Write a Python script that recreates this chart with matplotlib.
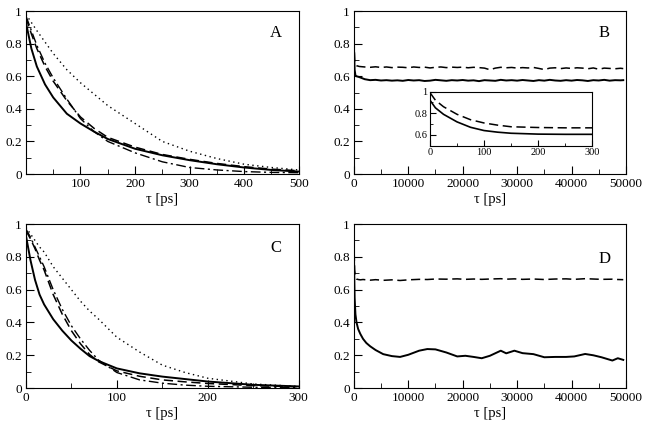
import matplotlib
matplotlib.use("Agg")
import matplotlib.pyplot as plt
from matplotlib.ticker import MultipleLocator, FixedLocator

plt.rcParams['font.family'] = ['Liberation Serif', 'DejaVu Serif']
plt.rcParams['font.size'] = 9

# ---- panel A (0-500 ps) ----
tA = [0, 10, 20, 35, 50, 75, 100, 125, 150, 200, 250, 300, 350, 400, 450, 500]
A_solid = [0.93, 0.77, 0.66, 0.55, 0.47, 0.37, 0.31, 0.26, 0.215, 0.155, 0.115, 0.085, 0.06, 0.04, 0.025, 0.015]
A_dash = [0.96, 0.86, 0.77, 0.66, 0.57, 0.45, 0.35, 0.28, 0.225, 0.165, 0.12, 0.09, 0.065, 0.045, 0.03, 0.02]
A_dashdot = [0.97, 0.88, 0.79, 0.68, 0.59, 0.46, 0.34, 0.26, 0.20, 0.13, 0.075, 0.04, 0.025, 0.015, 0.01, 0.008]
A_dot = [0.98, 0.93, 0.88, 0.81, 0.74, 0.64, 0.56, 0.49, 0.42, 0.31, 0.20, 0.14, 0.095, 0.06, 0.04, 0.025]

# ---- panel C (0-300 ps) ----
tC = [0, 5, 10, 15, 20, 30, 40, 50, 60, 70, 80, 100, 125, 150, 175, 200, 250, 300]
C_solid = [0.93, 0.78, 0.66, 0.57, 0.51, 0.42, 0.35, 0.29, 0.24, 0.195, 0.165, 0.12, 0.09, 0.07, 0.055, 0.04, 0.02, 0.01]
C_dash = [0.96, 0.91, 0.85, 0.78, 0.72, 0.57, 0.45, 0.35, 0.27, 0.205, 0.16, 0.105, 0.072, 0.05, 0.038, 0.028, 0.015, 0.008]
C_dashdot = [0.97, 0.92, 0.86, 0.80, 0.74, 0.60, 0.48, 0.38, 0.30, 0.23, 0.17, 0.095, 0.05, 0.03, 0.018, 0.011, 0.005, 0.003]
C_dot = [0.98, 0.94, 0.90, 0.86, 0.83, 0.74, 0.67, 0.60, 0.53, 0.47, 0.42, 0.31, 0.22, 0.14, 0.095, 0.06, 0.025, 0.01]

# ---- panel B (0-50000 ps) and its inset (0-300 ps) ----
tIn = [0, 10, 25, 50, 75, 100, 125, 150, 200, 250, 300]
In_solid = [0.92, 0.85, 0.79, 0.72, 0.67, 0.64, 0.625, 0.615, 0.607, 0.605, 0.605]
In_dash = [0.99, 0.92, 0.86, 0.79, 0.74, 0.71, 0.69, 0.675, 0.668, 0.665, 0.665]

tB = [0, 50, 150, 300, 500, 1000, 2000, 3000, 4000, 5000, 6000, 7000, 8000, 9000, 10000,
      11000, 12000, 13000, 14000, 15000, 16000, 17000, 18000, 19000, 20000, 21000, 22000,
      23000, 24000, 25000, 26000, 27000, 28000, 29000, 30000, 31000, 32000, 33000, 34000,
      35000, 36000, 37000, 38000, 39000, 40000, 41000, 42000, 43000, 44000, 45000, 46000,
      47000, 48000, 49000, 49500]
B_solid = [1.0, 0.75, 0.64, 0.605, 0.60, 0.595, 0.582, 0.576, 0.578, 0.574, 0.576, 0.573, 0.575, 0.572, 0.577,
           0.574, 0.576, 0.571, 0.573, 0.578, 0.575, 0.572, 0.576, 0.574, 0.577,
           0.573, 0.575, 0.570, 0.576, 0.574, 0.572, 0.578, 0.574, 0.576, 0.573,
           0.577, 0.574, 0.571, 0.576, 0.573, 0.578, 0.574, 0.572, 0.576, 0.573,
           0.577, 0.575, 0.571, 0.576, 0.574, 0.578, 0.573, 0.576, 0.575, 0.576]
B_dash = [1.0, 0.82, 0.70, 0.672, 0.665, 0.66, 0.657, 0.655, 0.658, 0.654, 0.657, 0.653, 0.656, 0.655, 0.652,
          0.657, 0.654, 0.656, 0.651, 0.655, 0.657, 0.653, 0.656, 0.654, 0.656,
          0.652, 0.655, 0.653, 0.650, 0.640, 0.650, 0.655, 0.652, 0.654, 0.650,
          0.653, 0.651, 0.654, 0.648, 0.641, 0.650, 0.652, 0.647, 0.651, 0.648,
          0.652, 0.650, 0.646, 0.651, 0.643, 0.650, 0.648, 0.646, 0.649, 0.647]

# ---- panel D (0-50000 ps) ----
tD = [0, 50, 150, 300, 500, 800, 1200, 1700, 2300, 3000, 4000, 5400, 7000, 8500, 10000, 12000, 13500, 15000,
      17000, 19000, 20500, 22000, 23500, 25000, 27000, 28000, 29500, 31000, 33000, 35000,
      37000, 39000, 40500, 42500, 44000, 45500, 47500, 48500, 49500]
D_solid = [1.0, 0.75, 0.55, 0.45, 0.40, 0.36, 0.33, 0.30, 0.275, 0.255, 0.232, 0.207, 0.195, 0.19, 0.203, 0.228, 0.238, 0.236,
           0.217, 0.193, 0.197, 0.19, 0.182, 0.197, 0.228, 0.212, 0.228, 0.213, 0.207, 0.188,
           0.19, 0.19, 0.193, 0.208, 0.20, 0.188, 0.168, 0.182, 0.172]
D_dash = [1.0, 0.85, 0.72, 0.68, 0.665, 0.662, 0.66, 0.662, 0.66, 0.658, 0.661, 0.657, 0.660, 0.656, 0.660, 0.663, 0.662, 0.665,
          0.664, 0.666, 0.663, 0.665, 0.663, 0.665, 0.667, 0.664, 0.666, 0.663, 0.665, 0.662,
          0.665, 0.666, 0.663, 0.667, 0.665, 0.663, 0.664, 0.662, 0.661]

panel_labels = ['A', 'B', 'C', 'D']
xlabel = "\u03c4 [ps]"

dash = (0, (6, 3))
dashdot = (0, (7, 2.5, 1.5, 2.5))
dot = (0, (1, 2.5))


def style(ax, xmax, xminor, xticks):
    ax.set_xlim(0, xmax)
    ax.set_ylim(0, 1)
    ax.xaxis.set_major_locator(FixedLocator(xticks))
    ax.xaxis.set_minor_locator(MultipleLocator(xminor))
    ax.yaxis.set_major_locator(MultipleLocator(0.2))
    ax.yaxis.set_minor_locator(MultipleLocator(0.1))
    ax.yaxis.set_major_formatter(plt.FuncFormatter(lambda v, p: "%g" % round(v, 2)))
    ax.tick_params(which='both', direction='in', top=False, right=False, labelsize=9.5)
    ax.tick_params(which='major', length=6, pad=3)
    ax.tick_params(which='minor', length=3.5)
    ax.set_xlabel(xlabel, fontsize=10.5, labelpad=2)
    for s in ax.spines.values():
        s.set_linewidth(0.8)


fig = plt.figure(figsize=(6.48, 4.26), dpi=100)
axA = fig.add_axes([0.040, 0.5915, 0.421, 0.3825])
axB = fig.add_axes([0.546, 0.5915, 0.420, 0.3825])
axC = fig.add_axes([0.040, 0.089, 0.421, 0.385])
axD = fig.add_axes([0.546, 0.089, 0.420, 0.385])

axA.plot(tA, A_dot, color='k', lw=1.0, ls=dot)
axA.plot(tA, A_dashdot, color='k', lw=1.0, ls=dashdot)
axA.plot(tA, A_dash, color='k', lw=1.1, ls=dash)
axA.plot(tA, A_solid, color='k', lw=1.4)
style(axA, 500, 50, [100, 200, 300, 400, 500])

axB.plot(tB, B_dash, color='k', lw=1.1, ls=dash)
axB.plot(tB, B_solid, color='k', lw=1.4)
style(axB, 50000, 5000, [0, 10000, 20000, 30000, 40000, 50000])

axC.plot(tC, C_dot, color='k', lw=1.0, ls=dot)
axC.plot(tC, C_dashdot, color='k', lw=1.0, ls=dashdot)
axC.plot(tC, C_dash, color='k', lw=1.1, ls=dash)
axC.plot(tC, C_solid, color='k', lw=1.4)
style(axC, 300, 50, [0, 100, 200, 300])

axD.plot(tD, D_dash, color='k', lw=1.1, ls=dash)
axD.plot(tD, D_solid, color='k', lw=1.4)
style(axD, 50000, 5000, [0, 10000, 20000, 30000, 40000, 50000])

for ax, lab, (lx, ly) in zip([axA, axB, axC, axD], panel_labels,
                             [(0.916, 0.865), (0.919, 0.865), (0.916, 0.854), (0.92, 0.79)]):
    ax.text(lx, ly, lab, transform=ax.transAxes, fontsize=12, ha='center', va='center')

# inset in B
axIn = fig.add_axes([0.6636, 0.658, 0.25, 0.127])
axIn.plot(tIn, In_dash, color='k', lw=1.1, ls=dash)
axIn.plot(tIn, In_solid, color='k', lw=1.2)
axIn.set_xlim(0, 300)
axIn.set_ylim(0.5, 1)
axIn.xaxis.set_major_locator(MultipleLocator(100))
axIn.xaxis.set_minor_locator(MultipleLocator(50))
axIn.yaxis.set_major_locator(FixedLocator([0.6, 0.8, 1.0]))
axIn.yaxis.set_minor_locator(FixedLocator([0.7, 0.9]))
axIn.yaxis.set_major_formatter(plt.FuncFormatter(lambda v, p: "%g" % round(v, 2)))
axIn.tick_params(which='both', direction='in', top=False, right=False, labelsize=7.5, pad=2)
axIn.tick_params(which='major', length=4)
axIn.tick_params(which='minor', length=2.5)
for s in axIn.spines.values():
    s.set_linewidth(0.8)

fig.savefig("out.png", dpi=100)
